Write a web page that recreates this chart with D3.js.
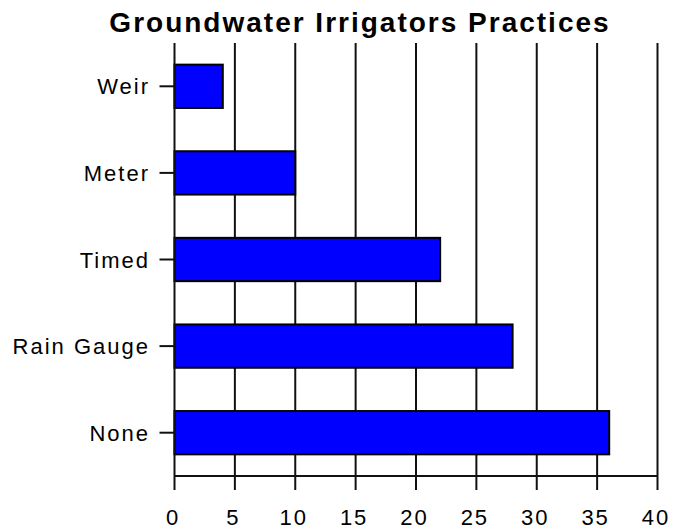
<!DOCTYPE html>
<html>
<head>
<meta charset="utf-8">
<script src="https://cdn.jsdelivr.net/npm/d3@7"></script>
<style>
  html, body { margin: 0; padding: 0; background: #fff; }
  svg { display: block; }
  text { font-family: "Liberation Sans", Arial, sans-serif; fill: #000; }
</style>
</head>
<body>
<svg id="chart" width="680" height="529"></svg>
<script>
const title = "Groundwater Irrigators Practices";
const categories = ["Weir", "Meter", "Timed", "Rain Gauge", "None"];
const values = [4, 10, 22, 28, 36];
const xTicks = [0, 5, 10, 15, 20, 25, 30, 35, 40];

const svg = d3.select("#chart");
const plotLeft = 174.5, plotRight = 657.5, plotTop = 43, plotBottom = 476;

const x = d3.scaleLinear().domain([0, 40]).range([plotLeft, plotRight]);
const y = d3.scaleBand().domain(categories).range([plotTop, plotBottom]).paddingInner(0.5).paddingOuter(0.25);

// title
svg.append("text")
  .attr("x", 360).attr("y", 32)
  .attr("text-anchor", "middle")
  .style("font-size", "28px").style("font-weight", "bold").style("letter-spacing", "2px")
  .text(title);

// gridlines (vertical) with ticks extending below axis
svg.append("g").selectAll("line").data(xTicks.filter(d => d > 0)).join("line")
  .attr("x1", d => x(d)).attr("x2", d => x(d))
  .attr("y1", plotTop).attr("y2", plotBottom + 14)
  .attr("stroke", "#111").attr("stroke-width", 2);

// bars
svg.append("g").selectAll("rect").data(categories).join("rect")
  .attr("x", x(0))
  .attr("y", d => y(d))
  .attr("width", (d, i) => x(values[i]) - x(0))
  .attr("height", y.bandwidth())
  .attr("fill", "#0000ff")
  .attr("stroke", "#000").attr("stroke-width", 2);

// x axis line
svg.append("line")
  .attr("x1", x(0)).attr("x2", x(40))
  .attr("y1", plotBottom).attr("y2", plotBottom)
  .attr("stroke", "#111").attr("stroke-width", 2);

// y axis line
svg.append("line")
  .attr("x1", x(0)).attr("x2", x(0))
  .attr("y1", plotTop).attr("y2", plotBottom + 14)
  .attr("stroke", "#111").attr("stroke-width", 2);

// y ticks
svg.append("g").selectAll("line").data(categories).join("line")
  .attr("x1", x(0) - 15).attr("x2", x(0))
  .attr("y1", d => y(d) + y.bandwidth() / 2).attr("y2", d => y(d) + y.bandwidth() / 2)
  .attr("stroke", "#111").attr("stroke-width", 2);

// y labels
svg.append("g").selectAll("text").data(categories).join("text")
  .attr("x", 150)
  .attr("y", d => y(d) + y.bandwidth() / 2 + 8)
  .attr("text-anchor", "end")
  .style("font-size", "22px").style("letter-spacing", "2px")
  .text(d => d);

// x tick labels
svg.append("g").selectAll("text").data(xTicks).join("text")
  .attr("x", d => x(d) - 1.5)
  .attr("y", 525)
  .attr("text-anchor", "middle")
  .style("font-size", "22px").style("letter-spacing", "2px")
  .text(d => d);
</script>
</body>
</html>
